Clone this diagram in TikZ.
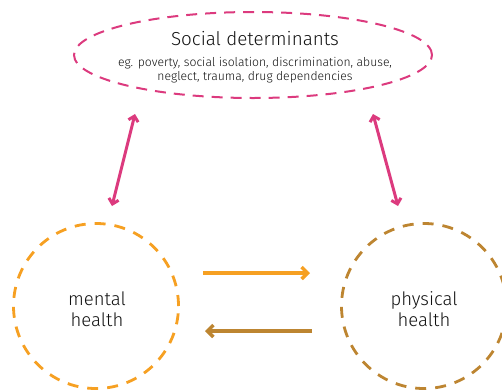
\documentclass[tikz,border=0pt]{standalone}
\usepackage{fontspec}
\setmainfont{Fira Sans}[UprightFont={* Light}]
\usetikzlibrary{shapes.geometric,arrows.meta}
\definecolor{pinkc}{HTML}{DC3A7E}
\definecolor{orangec}{HTML}{F6A022}
\definecolor{brownc}{HTML}{BD8531}
\definecolor{textc}{HTML}{111111}
\tikzset{
  sdell/.style={ellipse,draw=pinkc,line width=2pt,dash pattern=on 11pt off 8pt,minimum width=358pt,minimum height=86pt,inner sep=0pt},
  healthcirc/.style={circle,line width=2.8pt,dash pattern=on 11pt off 9pt,minimum size=165pt,inner sep=0pt},
  lbl/.style={text=textc,align=center,inner sep=0pt},
  pinkarr/.style={draw=pinkc,line width=3pt,{Straight Barb[length=5pt,width=10pt,line width=3pt]}-{Straight Barb[length=5pt,width=10pt,line width=3pt]}},
  flowarr/.style={line width=3.8pt,-{Straight Barb[length=6pt,width=12pt,line width=3.5pt]}}
}
\begin{document}
\begin{tikzpicture}[x=1pt,y=-1pt]
\useasboundingbox (0,0) rectangle (502,389);
\node[sdell] (sd) at (253,55) {};
\node[lbl,font=\fontsize{18.8}{20}\selectfont] (sdt) at (255,39) {Social determinants};
\node[lbl,font=\fontsize{12.2}{14.5}\selectfont] (sde) at (255,70) {eg. poverty, social isolation, discrimination, abuse,\\neglect, trauma, drug dependencies};
\node[healthcirc,draw=orangec] (mh) at (96,306) {};
\node[healthcirc,draw=brownc] (ph) at (424,306) {};
\node[lbl,font=\fontsize{18.5}{21}\selectfont] (mht) at (97,309) {mental\\health};
\node[lbl,font=\fontsize{18.5}{21}\selectfont] (pht) at (424,309) {physical\\health};
\coordinate (la) at (135,114);
\coordinate (lb) at (112,206);
\coordinate (ra) at (373,114);
\coordinate (rb) at (398,206);
\draw[pinkarr] (la) -- (lb);
\draw[pinkarr] (ra) -- (rb);
\coordinate (oa) at (203,273);
\coordinate (ob) at (310,273);
\coordinate (ba) at (312,331);
\coordinate (bb) at (205,331);
\draw[flowarr,draw=orangec] (oa) -- (ob);
\draw[flowarr,draw=brownc] (ba) -- (bb);
\end{tikzpicture}
\end{document}
